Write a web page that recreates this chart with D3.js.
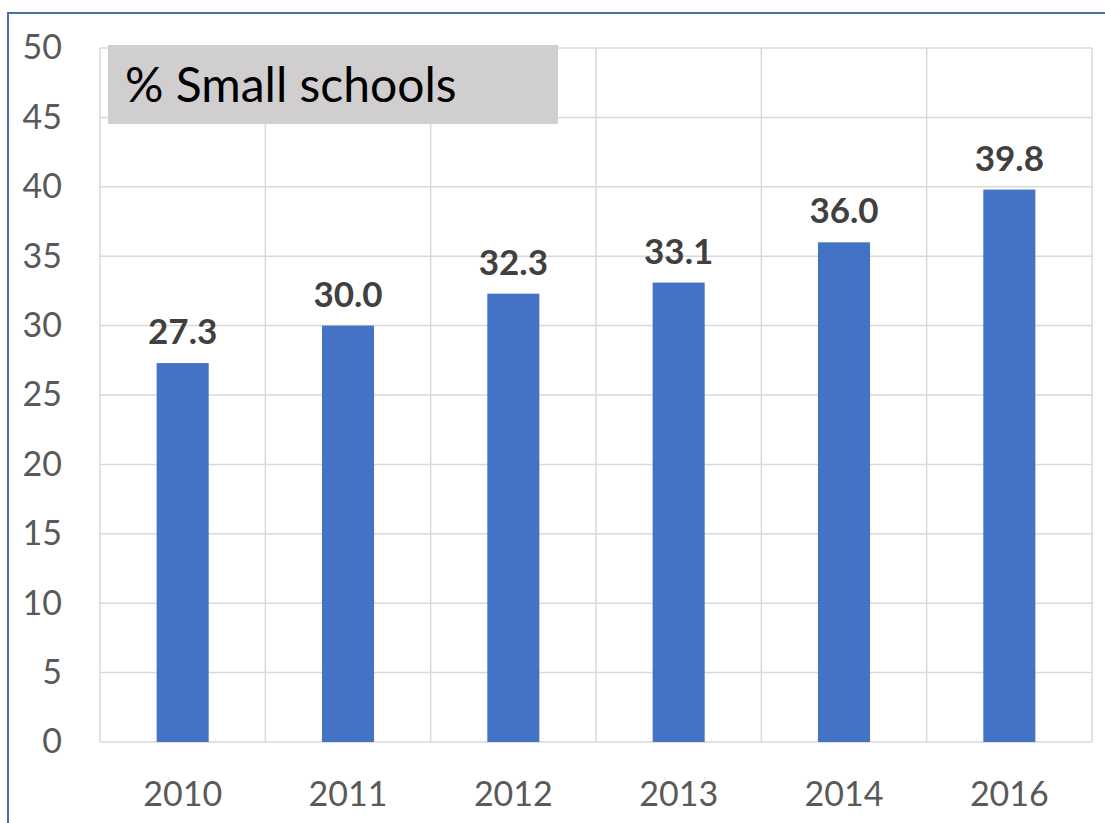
<!DOCTYPE html>
<meta charset="utf-8">
<script src="https://d3js.org/d3.v7.min.js"></script>
<style>
  body { margin: 0; background: #fff; }
  text { font-family: Lato, "Open Sans", sans-serif; }
</style>
<div id="my_dataviz"></div>
<script>

  // data
  var years = ["2010", "2011", "2012", "2013", "2014", "2016"];
  var pctSmall = [27.3, 30.0, 32.3, 33.1, 36.0, 39.8];
  var yTicks = [0, 5, 10, 15, 20, 25, 30, 35, 40, 45, 50];

  var W = 1105, H = 823;
  var margin = {top: 48, right: 13, bottom: 81, left: 100},
      width = W - margin.left - margin.right,
      height = H - margin.top - margin.bottom;

  var root = d3.select("#my_dataviz")
    .append("svg")
      .attr("width", W)
      .attr("height", H);

  // chart frame (runs off right & bottom)
  root.append("rect")
    .attr("x", 8).attr("y", 13)
    .attr("width", W + 20).attr("height", H + 20)
    .attr("fill", "none")
    .attr("stroke", "#4a70aa")
    .attr("stroke-width", 2);

  var svg = root.append("g")
    .attr("transform", "translate(" + margin.left + "," + margin.top + ")");

  var x = d3.scaleBand()
    .domain(years)
    .range([0, width])
    .paddingInner(0.685)
    .paddingOuter(0.3425);

  var xCat = d3.scaleBand().domain(years).range([0, width]);

  var y = d3.scaleLinear()
    .domain([0, 50])
    .range([height, 0]);

  // horizontal gridlines
  svg.append("g")
    .selectAll("line")
    .data(yTicks)
    .enter().append("line")
      .attr("x1", 0).attr("x2", width)
      .attr("y1", function(d) { return y(d); })
      .attr("y2", function(d) { return y(d); })
      .attr("stroke", "#d9d9d9")
      .attr("stroke-width", 1.5);

  // vertical gridlines between categories
  var vlines = [0].concat(years.map(function(d) { return xCat(d) + xCat.bandwidth(); }));
  svg.append("g")
    .selectAll("line")
    .data(vlines)
    .enter().append("line")
      .attr("x1", function(d) { return d; })
      .attr("x2", function(d) { return d; })
      .attr("y1", 0).attr("y2", height)
      .attr("stroke", "#d9d9d9")
      .attr("stroke-width", 1.5);

  // y axis labels
  var yAxis = svg.append("g")
    .call(d3.axisLeft(y).tickValues(yTicks).tickSize(0).tickPadding(38));
  yAxis.select(".domain").remove();
  yAxis.selectAll("text")
    .attr("fill", "#595959")
    .style("font-size", "34px");

  // x axis labels
  var xAxis = svg.append("g")
    .attr("transform", "translate(0," + height + ")")
    .call(d3.axisBottom(xCat).tickSize(0).tickPadding(40));
  xAxis.select(".domain").remove();
  xAxis.selectAll("text")
    .attr("fill", "#595959")
    .style("font-size", "34px");

  // bars
  svg.selectAll(".bar")
    .data(pctSmall)
    .enter().append("rect")
      .attr("class", "bar")
      .attr("x", function(d, i) { return x(years[i]); })
      .attr("width", x.bandwidth())
      .attr("y", function(d) { return y(d); })
      .attr("height", function(d) { return height - y(d); })
      .attr("fill", "#4472c4");

  // value labels
  svg.selectAll(".lbl")
    .data(pctSmall)
    .enter().append("text")
      .attr("class", "lbl")
      .attr("x", function(d, i) { return x(years[i]) + x.bandwidth() / 2; })
      .attr("y", function(d) { return y(d) - 19; })
      .attr("text-anchor", "middle")
      .attr("fill", "#404040")
      .style("font-size", "35px")
      .style("font-weight", "bold")
      .text(function(d) { return d.toFixed(1); });

  // title box
  root.append("rect")
    .attr("x", 108).attr("y", 45)
    .attr("width", 450).attr("height", 79)
    .attr("fill", "#d0cece");
  root.append("text")
    .attr("x", 125).attr("y", 102)
    .attr("fill", "#000")
    .style("font-size", "48px")
    .text("% Small schools");

</script>
